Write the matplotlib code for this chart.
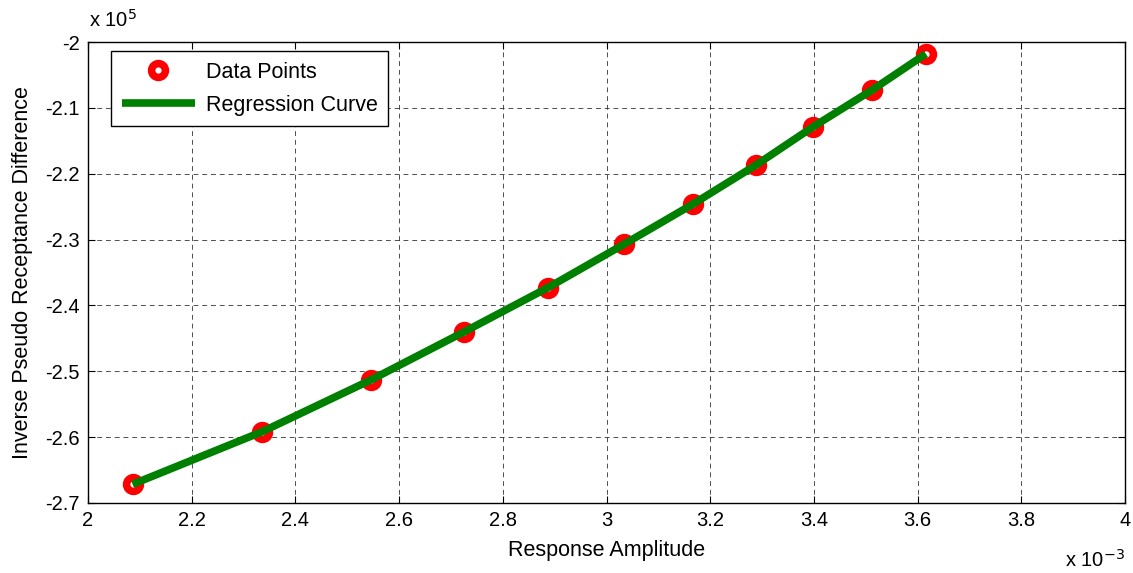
import matplotlib
matplotlib.use("Agg")
import matplotlib.pyplot as plt
import numpy as np

plt.rcParams['font.family'] = ['Liberation Sans', 'DejaVu Sans']

# Data (x in units of 1e-3, y in units of 1e5)
amplitude = [2.086, 2.336, 2.546, 2.725, 2.887, 3.034, 3.167, 3.288, 3.398, 3.512, 3.616]
inv_diff = [-2.6716, -2.5917, -2.513, -2.4403, -2.373, -2.307, -2.246, -2.187, -2.129, -2.073, -2.018]
curve_x = amplitude
curve_y = inv_diff

xticks = [2, 2.2, 2.4, 2.6, 2.8, 3, 3.2, 3.4, 3.6, 3.8, 4]
xticklabels = ['2', '2.2', '2.4', '2.6', '2.8', '3', '3.2', '3.4', '3.6', '3.8', '4']
yticks = [-2.7, -2.6, -2.5, -2.4, -2.3, -2.2, -2.1, -2]
yticklabels = ['-2.7', '-2.6', '-2.5', '-2.4', '-2.3', '-2.2', '-2.1', '-2']

fig = plt.figure(figsize=(11.33, 5.73), dpi=100)
ax = fig.add_axes([88/1133, 70/573, (1125-88)/1133, (503-42)/573])

ax.plot(amplitude, inv_diff, linestyle='none', marker='o', markersize=10,
        markerfacecolor='white', markeredgecolor='#ff0000', markeredgewidth=5.4,
        label='Data Points', zorder=3)
ax.plot(curve_x, curve_y, color='#008000', linewidth=5.5, label='Regression Curve',
        zorder=4, solid_capstyle='butt')

ax.set_xlim(2, 4)
ax.set_ylim(-2.7, -2)
ax.set_xticks(xticks)
ax.set_xticklabels(xticklabels)
ax.set_yticks(yticks)
ax.set_yticklabels(yticklabels)
ax.tick_params(direction='in', top=True, right=True, labelsize=14.5, length=5, width=0.8, pad=6)
ax.grid(True, color='#222222', linestyle=(0, (5, 4)), linewidth=0.7, alpha=0.8)
for s in ax.spines.values():
    s.set_linewidth(1.0)

ax.set_xlabel('Response Amplitude', fontsize=15.5, labelpad=7)
ax.set_ylabel('Inverse Pseudo Receptance Difference', fontsize=15.5, labelpad=9)

fig.text(89/1133, 1 - 20/573, r'x 10$^{5}$', fontsize=14.5, va='center', ha='left')
fig.text(1125/1133, 1 - 560/573, r'x 10$^{-3}$', fontsize=14.5, va='center', ha='right')

leg = ax.legend(loc='upper left', bbox_to_anchor=(23/1037, 1 - 9/461), borderaxespad=0,
                fancybox=False, edgecolor='black', framealpha=1, fontsize=15.5,
                handlelength=3.4, borderpad=0.5, labelspacing=0.55, handletextpad=0.5)
leg.get_frame().set_linewidth(1.0)

fig.savefig('out.png', dpi=100)
